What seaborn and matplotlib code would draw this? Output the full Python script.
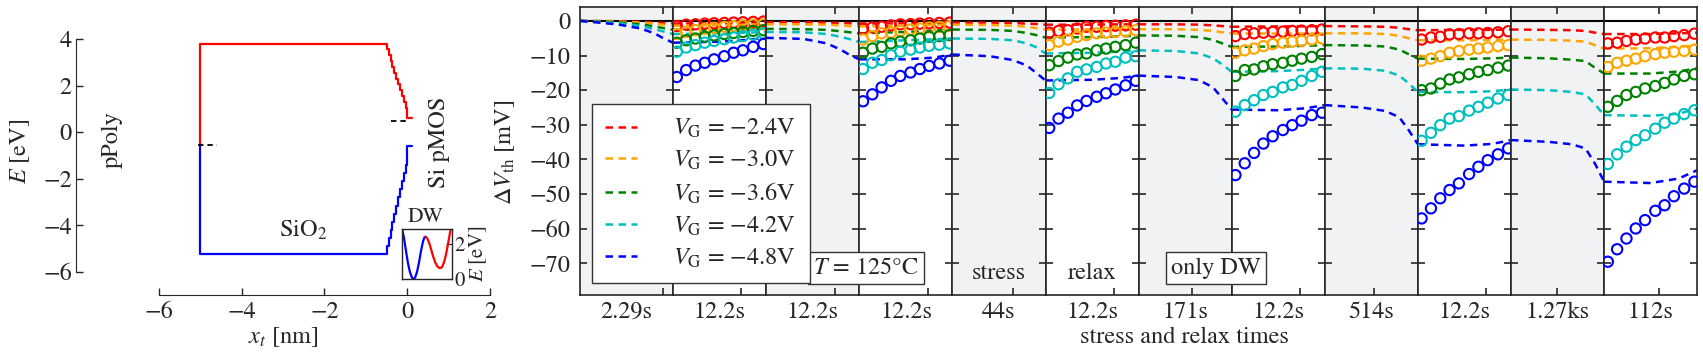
import numpy as np
import matplotlib
matplotlib.use('Agg')
import matplotlib.pyplot as plt
import seaborn as sns

sns.set_style('ticks')
plt.rcParams['font.family'] = ['STIXGeneral', 'DejaVu Serif']
plt.rcParams['mathtext.fontset'] = 'stix'
plt.rcParams['font.size'] = 17.5
plt.rcParams['lines.dashed_pattern'] = [3.0, 2.2]

# ---- band diagram data ----
cb_x = [-5.02, -5.02, -0.54, -0.49, -0.45, -0.40, -0.36, -0.31, -0.27, -0.22,
        -0.18, -0.13, -0.09, -0.04, 0.0, 0.11]
cb_e = [-0.57, 3.79, 3.79, 3.55, 3.30, 3.05, 2.80, 2.55, 2.30, 2.05,
        1.80, 1.55, 1.30, 1.05, 0.61, 0.61]
vb_x = [-5.02, -5.02, -0.54, -0.49, -0.45, -0.40, -0.36, -0.31, -0.27, -0.22,
        -0.18, -0.13, -0.09, -0.04, 0.0, 0.11]
vb_e = [-0.57, -5.23, -5.23, -4.90, -4.55, -4.20, -3.85, -3.50, -3.15, -2.80,
        -2.45, -2.10, -1.75, -1.40, -0.59, -0.59]
fermi_poly = ([-5.05, -4.6], [-0.57, -0.57])
fermi_si = ([-0.4, 0.0], [0.48, 0.48])

# double well inset
dw_blue_x = [0.00, 0.04, 0.08, 0.12, 0.16, 0.20, 0.23, 0.26, 0.30, 0.34, 0.38, 0.42, 0.45, 0.47]
dw_blue_e = [2.90, 2.35, 1.60, 0.90, 0.38, 0.07, 0.00, 0.07, 0.40, 0.95, 1.60, 2.15, 2.38, 2.42]
dw_red_x = [0.47, 0.50, 0.54, 0.58, 0.62, 0.66, 0.70, 0.74, 0.77, 0.80, 0.84, 0.88, 0.92, 0.96, 0.98]
dw_red_e = [2.42, 2.35, 2.10, 1.72, 1.32, 0.98, 0.75, 0.64, 0.63, 0.68, 0.95, 1.40, 2.00, 2.65, 2.90]

# ---- stress / relax data ----
panel_times = [2.29, 12.2, 12.2, 12.2, 44, 12.2, 171, 12.2, 514, 12.2, 1270, 112]
panel_labels = ['2.29s', '12.2s', '12.2s', '12.2s', '44s', '12.2s', '171s',
                '12.2s', '514s', '12.2s', '1.27ks', '112s']
vg_labels = [r'$V_\mathrm{G}$ = −2.4V', r'$V_\mathrm{G}$ = −3.0V', r'$V_\mathrm{G}$ = −3.6V',
             r'$V_\mathrm{G}$ = −4.2V', r'$V_\mathrm{G}$ = −4.8V']
vg_colors = ['#ff0000', '#ffa500', '#008000', '#00bfbf', '#0000ff']

stress_frac = [0, 0.4, 0.65, 0.8, 0.9, 1.0]
relax_frac = [0, 0.5, 0.8, 1.0]
meas_frac = [0.04, 0.14, 0.24, 0.34, 0.44, 0.55, 0.65, 0.75, 0.86, 0.97]

model_24 = [[0, -0.1, -0.3, -0.5, -0.6, -0.8], [-0.8, -0.7, -0.5, -0.4],
            [-0.4, -0.4, -0.5, -0.6, -0.7, -0.8], [-0.8, -0.7, -0.6, -0.5],
            [-0.5, -0.5, -0.6, -0.8, -0.9, -1.1], [-1.1, -1.1, -1.0, -1.0],
            [-1.0, -1.0, -1.1, -1.3, -1.5, -1.7], [-1.7, -1.6, -1.6, -1.5],
            [-1.5, -1.6, -1.7, -2.0, -2.4, -2.7], [-2.7, -2.6, -2.6, -2.5],
            [-2.5, -2.6, -2.7, -2.9, -3.4, -3.8], [-3.8, -3.8, -3.6, -3.4]]
model_30 = [[0, -0.2, -0.5, -0.8, -1.1, -1.4], [-1.4, -1.3, -1.1, -1.0],
            [-1.0, -1.0, -1.1, -1.3, -1.5, -1.6], [-1.6, -1.4, -1.2, -1.1],
            [-1.1, -1.2, -1.4, -1.7, -2.1, -2.5], [-2.5, -2.5, -2.4, -2.4],
            [-2.4, -2.4, -2.6, -2.9, -3.3, -3.6], [-3.6, -3.6, -3.6, -3.6],
            [-3.6, -3.6, -3.8, -4.3, -5.0, -5.6], [-5.6, -5.6, -5.5, -5.4],
            [-5.4, -5.5, -5.7, -6.0, -7.0, -8.0], [-8.0, -7.9, -7.5, -7.0]]
model_36 = [[0, -0.4, -1.0, -1.6, -2.1, -2.6], [-2.6, -2.5, -2.4, -2.3],
            [-2.3, -2.4, -2.6, -3.0, -3.3, -3.6], [-3.6, -3.2, -2.8, -2.5],
            [-2.5, -2.6, -2.9, -3.5, -4.1, -4.8], [-4.8, -4.7, -4.5, -4.2],
            [-4.2, -4.3, -4.7, -5.5, -6.5, -7.5], [-7.5, -7.4, -7.2, -7.0],
            [-7.0, -7.1, -7.4, -8.3, -9.6, -10.9], [-10.9, -11.0, -10.8, -10.6],
            [-10.6, -10.8, -11.2, -11.6, -13.5, -15.2], [-15.2, -15.2, -14.6, -13.7]]
model_42 = [[0, -0.6, -1.5, -2.4, -3.1, -3.8], [-3.8, -3.6, -3.4, -3.2],
            [-3.2, -3.3, -3.8, -4.6, -5.3, -6.1], [-6.1, -5.6, -5.3, -5.1],
            [-5.1, -5.2, -5.6, -6.5, -7.6, -9.4], [-9.4, -9.2, -8.9, -8.5],
            [-8.5, -8.7, -9.4, -10.8, -12.6, -14.7], [-14.7, -14.5, -14.1, -13.7],
            [-13.7, -13.8, -14.4, -15.8, -18.0, -20.5], [-20.5, -20.6, -20.3, -19.8],
            [-19.8, -20.0, -20.5, -21.2, -24.0, -27.2], [-27.2, -27.4, -26.8, -25.3]]
model_48 = [[0, -1.0, -2.2, -3.6, -5.1, -6.3], [-6.3, -6.0, -5.5, -4.9],
            [-4.9, -5.2, -6.5, -8.3, -9.9, -11.1], [-11.1, -11.1, -10.6, -9.7],
            [-9.7, -10.2, -11.3, -12.9, -15.0, -17.2], [-17.2, -17.0, -16.5, -15.8],
            [-15.8, -16.2, -17.1, -19.2, -22.4, -25.6], [-25.6, -25.8, -25.2, -24.3],
            [-24.3, -25.0, -26.0, -27.8, -31.5, -35.6], [-35.6, -36.0, -35.5, -34.4],
            [-34.4, -34.9, -35.6, -36.8, -41.1, -46.4], [-46.4, -46.8, -45.5, -43.1]]

meas_24 = [[-1.5, -1.1, -1.0, -0.8, -0.7, -0.6, -0.5, -0.4, -0.3, -0.2],
           [-2.2, -1.9, -1.7, -1.3, -1.0, -0.95, -0.8, -0.7, -0.6, -0.5],
           [-3.4, -2.9, -2.7, -2.2, -1.7, -1.7, -1.5, -1.4, -1.3, -1.1],
           [-4.4, -3.8, -3.6, -3.4, -3.2, -3.1, -2.9, -2.8, -2.7, -2.5],
           [-5.4, -4.8, -4.6, -3.9, -3.8, -3.6, -3.6, -3.5, -3.3, -3.0],
           [-6.5, -6.3, -5.8, -5.4, -5.1, -4.8, -4.8, -4.4, -4.1, -3.7]]
meas_30 = [[-3.8, -3.2, -2.7, -2.3, -2.0, -1.7, -1.5, -1.3, -1.1, -1.0],
           [-5.4, -4.4, -3.6, -3.4, -2.9, -2.5, -2.2, -1.9, -1.7, -1.5],
           [-7.0, -6.0, -5.4, -4.6, -4.1, -3.6, -3.4, -3.2, -3.0, -2.7],
           [-9.2, -8.5, -8.0, -7.3, -6.7, -6.3, -6.0, -5.8, -5.4, -5.1],
           [-11.5, -10.9, -10.2, -9.2, -8.7, -8.3, -8.0, -7.7, -7.3, -7.0],
           [-13.3, -12.1, -11.5, -10.9, -10.2, -9.6, -9.2, -8.9, -8.7, -8.3]]
meas_36 = [[-6.3, -5.6, -5.1, -4.6, -4.2, -3.8, -3.5, -3.2, -2.9, -2.7],
           [-9.2, -8.0, -7.5, -6.5, -6.0, -5.6, -5.1, -4.6, -4.4, -4.1],
           [-12.8, -11.6, -10.6, -9.7, -9.4, -8.5, -8.0, -7.5, -7.0, -6.3],
           [-15.9, -14.2, -14.0, -13.1, -12.5, -12.1, -11.5, -10.9, -10.4, -9.6],
           [-20.0, -19.5, -18.1, -16.9, -16.3, -15.4, -14.7, -14.2, -13.5, -12.9],
           [-24.8, -23.1, -21.4, -20.5, -19.5, -18.8, -17.9, -16.9, -15.9, -15.4]]
meas_42 = [[-8.9, -7.7, -7.0, -6.3, -5.8, -5.3, -4.8, -4.4, -4.0, -3.6],
           [-13.9, -12.1, -11.3, -9.9, -8.9, -8.3, -7.7, -7.2, -6.9, -6.5],
           [-20.8, -18.3, -16.6, -14.7, -14.0, -13.3, -12.3, -11.8, -10.6, -10.2],
           [-26.2, -24.3, -22.9, -21.4, -20.5, -19.2, -18.5, -17.3, -15.9, -14.7],
           [-34.6, -32.3, -30.1, -28.2, -27.5, -25.9, -24.8, -23.6, -22.4, -21.4],
           [-41.3, -38.5, -36.3, -34.4, -33.0, -31.1, -29.4, -28.2, -26.9, -25.8]]
meas_48 = [[-16.2, -14.2, -12.9, -12.1, -11.1, -10.2, -9.2, -8.5, -7.5, -6.7],
           [-23.2, -21.2, -19.2, -17.3, -15.9, -14.9, -13.9, -13.0, -12.3, -11.5],
           [-30.9, -28.2, -26.5, -24.4, -23.1, -21.9, -20.9, -19.8, -18.6, -17.3],
           [-44.5, -41.1, -38.1, -35.4, -33.3, -31.5, -30.1, -28.8, -27.2, -26.5],
           [-57.0, -54.1, -51.2, -48.8, -46.9, -44.2, -42.1, -40.2, -38.5, -36.8],
           [-69.5, -65.9, -62.8, -59.9, -57.5, -54.8, -53.2, -50.6, -48.4, -46.4]]

series = list(zip(vg_labels, vg_colors,
                  [model_24, model_30, model_36, model_42, model_48],
                  [meas_24, meas_30, meas_36, meas_42, meas_48]))

W, H = 1703, 363
fig = plt.figure(figsize=(W / 100, H / 100), dpi=100)


def px(x, y, w, h):
    return [x / W, (H - y - h) / H, w / W, h / H]


# ---- band diagram ----
axb = fig.add_axes(px(159, 7, 331, 288))
axb.plot(cb_x, cb_e, color='#ff0000', lw=1.6, drawstyle='steps-post')
axb.plot(vb_x, vb_e, color='#0000ff', lw=1.6, drawstyle='steps-post')
axb.plot(*fermi_poly, color='k', lw=1.3, ls='--')
axb.plot(*fermi_si, color='k', lw=1.3, ls='--')
axb.set_xlim(-6, 2)
axb.set_ylim(-6.99, 5.37)
axb.set_xticks([-6, -4, -2, 0, 2])
axb.set_yticks([-6, -4, -2, 0, 2, 4])
for s in ['top', 'right']:
    axb.spines[s].set_visible(False)
axb.spines['left'].set_position(('outward', 59.8))
axb.spines['left'].set_bounds(-6, 4)
axb.spines['bottom'].set_bounds(-6, 2)
axb.tick_params(direction='in', length=5, width=1)
axb.tick_params(axis='y', pad=3)
axb.tick_params(axis='x', pad=5)
axb.text(-7.14, -0.33, 'pPoly', rotation=90, ha='center', va='center')
axb.text(0.77, -0.42, 'Si pMOS', rotation=90, ha='center', va='center')
axb.text(-2.52, -4.2, r'SiO$_2$', ha='center', va='center')
fig.text(20 / W, 1 - 151 / H, r'$E$ [eV]', rotation=90, ha='center', va='center')
fig.text(283 / W, 1 - 343 / H, r'$x_t$ [nm]', ha='center', va='baseline')

# double-well inset
axi = fig.add_axes(px(402, 229, 50, 50))
sns.lineplot(x=dw_blue_x, y=dw_blue_e, ax=axi, color='#0000ff', lw=1.6, sort=False, estimator=None)
sns.lineplot(x=dw_red_x, y=dw_red_e, ax=axi, color='#ff0000', lw=1.6, sort=False, estimator=None)
axi.set_xlim(0, 1)
axi.set_ylim(0, 2.86)
axi.set_xticks([])
axi.set_yticks([0, 2])
axi.yaxis.tick_right()
axi.tick_params(axis='y', direction='in', length=4, pad=2, labelsize=15)
axi.yaxis.set_label_position('right')
axi.set_ylabel(r'$E$ [eV]', fontsize=15, labelpad=2)
for s in axi.spines.values():
    s.set_linewidth(1)
fig.text(426 / W, 1 - 217 / H, 'DW', ha='center', va='center', fontsize=15.5)

# ---- stress / relax panels ----
t0 = 1e-3
x0, pw = 580, 93.1
handles = []
for i, T in enumerate(panel_times):
    ax = fig.add_axes(px(x0 + i * pw, 7, pw, 288))
    ax.set_xscale('log')
    stress = i % 2 == 0
    if stress:
        ax.set_facecolor('#f1f2f4')
    ax.axhline(0, color='k', lw=1.5, zorder=1)
    frac = stress_frac if stress else relax_frac
    t = t0 * (T / t0) ** np.array(frac)
    tm = t0 * (T / t0) ** np.array(meas_frac)
    for lab, col, model, meas in series:
        sns.lineplot(x=t, y=model[i], ax=ax, color=col, linestyle='--', lw=1.8,
                     sort=False, estimator=None)
        if i == 0:
            handles.append(ax.lines[-1])
        if not stress:
            sns.scatterplot(x=tm, y=meas[i // 2], ax=ax, marker='o', s=55,
                            facecolor='none', edgecolor=col, linewidth=1.5, zorder=3)
    ax.set_xlim(t0, T)
    ax.set_ylim(-79.1, 4.0)
    ax.set_xticks([1])
    ax.xaxis.set_minor_locator(matplotlib.ticker.NullLocator())
    ax.set_yticks(range(-70, 1, 10))
    ax.tick_params(axis='x', direction='in', top=True, bottom=True, length=5,
                   width=1.2, labelbottom=False)
    ax.tick_params(axis='y', direction='in', left=True, right=True, length=5,
                   width=1.2, labelleft=(i == 0), pad=7)
    for s in ax.spines.values():
        s.set_linewidth(1.2)
    ax.set_xlabel('')
    ax.set_ylabel('')
    fig.text((x0 + (i + 0.5) * pw) / W, 1 - 318 / H, panel_labels[i],
             ha='center', va='baseline')

fig.text(505 / W, 1 - 152 / H, r'$\Delta V_\mathrm{th}$ [mV]', rotation=90,
         ha='center', va='center')
fig.text(1184 / W, 1 - 343 / H, 'stress and relax times', ha='center', va='baseline')

fig.legend(handles, vg_labels, loc='lower left', bbox_to_anchor=(592 / W, 80 / H),
           borderaxespad=0, fancybox=False, edgecolor='0.2', framealpha=1,
           handlelength=1.3, handletextpad=1.5, labelspacing=0.35, borderpad=0.55)

box = dict(boxstyle='square,pad=0.2', fc='white', ec='0.2', lw=1)
fig.text(866 / W, 1 - 268 / H, r'$T$ = 125°C', ha='center', va='center', bbox=box)
fig.text(998.5 / W, 1 - 273 / H, 'stress', ha='center', va='center')
fig.text(1091.7 / W, 1 - 273 / H, 'relax', ha='center', va='center')
fig.text(1216 / W, 1 - 268 / H, 'only DW', ha='center', va='center', bbox=box)

fig.savefig('out.png', dpi=100)
